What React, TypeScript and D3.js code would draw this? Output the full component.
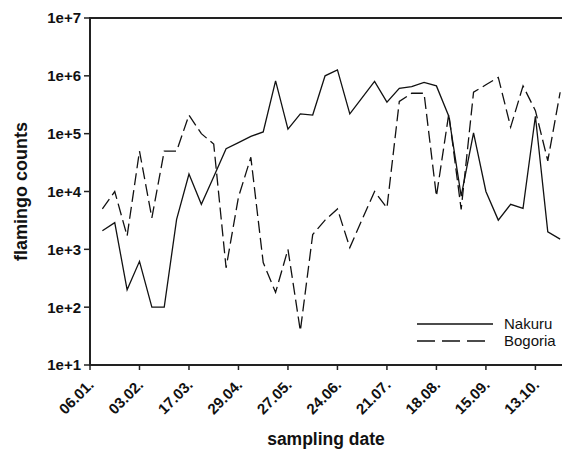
import React from "react";
import * as d3 from "d3";

const tickLabels = ["06.01.", "03.02.", "17.03.", "29.04.", "27.05.", "24.06.", "21.07.", "18.08.", "15.09.", "13.10."];
const yTicks = [1e1, 1e2, 1e3, 1e4, 1e5, 1e6, 1e7];
const yTickLabels = ["1e+1", "1e+2", "1e+3", "1e+4", "1e+5", "1e+6", "1e+7"];

const nakuru = [
  2100, 2900, 200, 620, 100, 100, 3300, 20000, 6000, 18000,
  55000, 70000, 90000, 107000, 820000, 120000, 220000, 210000, 1000000, 1270000,
  220000, 420000, 800000, 350000, 610000, 650000, 770000, 670000, 200000, 8300,
  103000, 10000, 3200, 6000, 5100, 200000, 2000, 1500,
];
const bogoria = [
  5000, 10000, 1700, 50000, 3500, 50000, 50000, 210000, 100000, 66000,
  480, 8000, 39000, 590, 180, 1000, 39, 1800, 3200, 5000,
  1070, 3300, 10000, 5200, 360000, 500000, 500000, 8300, 220000, 4900,
  520000, 700000, 940000, 130000, 670000, 250000, 34000, 520000,
];

const W = 570, H = 460;
const left = 90, right = 562, top = 18, bottom = 365;

export default function App() {
  const x = d3.scaleLinear().domain([0, 38.15]).range([left, right]);
  const y = d3.scaleLog().domain([10, 1e7]).range([bottom, top]);
  const line = d3
    .line<number>()
    .x((_, i) => x(i + 1))
    .y((d) => y(d));
  const font = "'Liberation Sans', Arial, sans-serif";
  return (
    <svg width={W} height={H} style={{ position: "absolute", left: 0, top: 0 }} fontFamily={font}>
      <rect width={W} height={H} fill="#fff" />
      {/* axes */}
      <line x1={left} x2={right} y1={top} y2={top} stroke="#222" strokeWidth={2} />
      <line x1={left} x2={left} y1={top - 1} y2={bottom + 1} stroke="#222" strokeWidth={2} />
      <line x1={left - 1} x2={right} y1={bottom} y2={bottom} stroke="#222" strokeWidth={2} />
      {yTicks.map((t, i) => (
        <g key={t}>
          <line x1={left - 6} x2={left} y1={y(t)} y2={y(t)} stroke="#222" strokeWidth={1.5} />
          <text x={left - 9} y={y(t)} dy="0.36em" textAnchor="end" fontSize={15} fontWeight="bold" fill="#111">
            {yTickLabels[i]}
          </text>
        </g>
      ))}
      {tickLabels.map((lab, i) => {
        const tx = x(i * 4);
        return (
          <g key={lab}>
            <line x1={tx} x2={tx} y1={bottom} y2={bottom + 5} stroke="#222" strokeWidth={1.5} />
            <text
              transform={`translate(${tx + 1},${bottom + 17}) rotate(-45)`}
              textAnchor="end"
              dy="0.35em"
              fontSize={15}
              fontWeight="bold"
              fill="#111"
            >
              {lab}
            </text>
          </g>
        );
      })}
      {/* data */}
      <path d={line(bogoria) || ""} fill="none" stroke="#111" strokeWidth={1.3} strokeDasharray="12,5" />
      <path d={line(nakuru) || ""} fill="none" stroke="#111" strokeWidth={1.3} />
      {/* legend */}
      <line x1={417} x2={493} y1={324} y2={324} stroke="#111" strokeWidth={1.3} />
      <line x1={417} x2={486} y1={341} y2={341} stroke="#111" strokeWidth={1.3} strokeDasharray="18,7" />
      <text x={504} y={324} dy="0.35em" fontSize={15} fill="#111">Nakuru</text>
      <text x={504} y={341} dy="0.35em" fontSize={15} fill="#111">Bogoria</text>
      {/* titles */}
      <text
        transform={`translate(27,${(top + bottom) / 2}) rotate(-90)`}
        textAnchor="middle"
        fontSize={18}
        fontWeight="bold"
        fill="#111"
      >
        flamingo counts
      </text>
      <text x={326} y={445} textAnchor="middle" fontSize={17.5} fontWeight="bold" fill="#111">
        sampling date
      </text>
    </svg>
  );
}
